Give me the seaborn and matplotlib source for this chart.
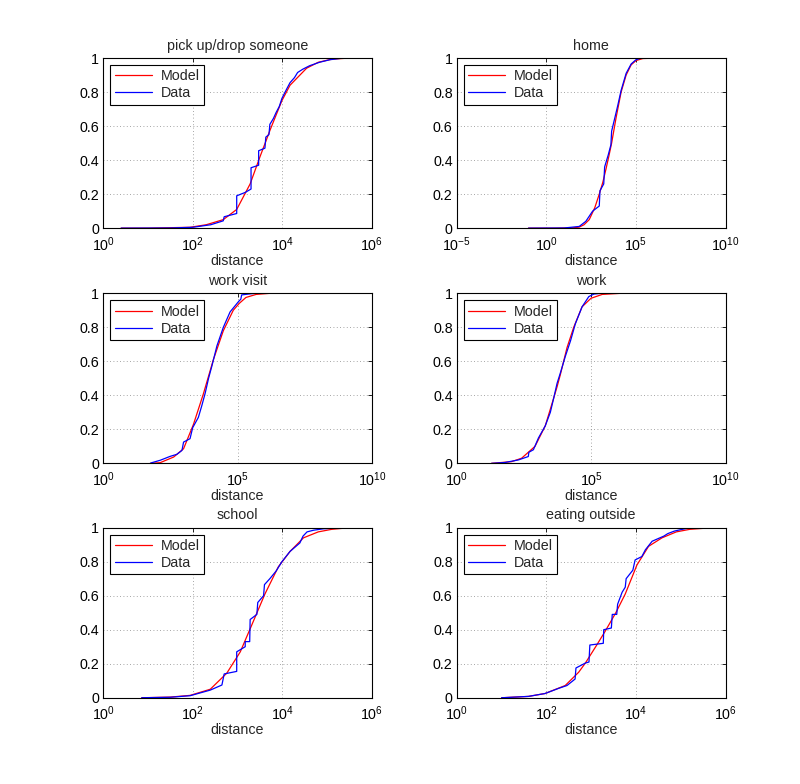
import numpy as np
import pandas as pd
import matplotlib
matplotlib.use("Agg")
import matplotlib.pyplot as plt
import matplotlib.ticker as mticker
import seaborn as sns

sns.set_theme(style="white")
plt.rcParams['font.family'] = ['Liberation Sans', 'DejaVu Sans']
plt.rcParams['mathtext.fontset'] = 'custom'
plt.rcParams['mathtext.rm'] = 'Liberation Sans'

titles = ["pick up/drop someone", "home", "work visit", "work", "school", "eating outside"]
xlims_log10 = [(0, 6), (-5, 10), (0, 10), (0, 10), (0, 6), (0, 6)]
xticks_log10 = [[0, 2, 4, 6], [-5, 0, 5, 10], [0, 5, 10], [0, 5, 10], [0, 2, 4, 6], [0, 2, 4, 6]]

# ---- pick up/drop someone ----
model1_log10 = [0.4, 1.0, 1.94, 2.3, 2.68, 2.98, 3.28, 3.5, 3.63, 3.73, 3.99, 4.17, 4.54, 4.8, 5.1, 5.5, 6.0]
model1_cdf = [0.0, 0.0, 0.005, 0.02, 0.05, 0.11, 0.26, 0.42, 0.51, 0.58, 0.75, 0.84, 0.94, 0.975, 0.993, 1.0, 1.0]
data1_log10 = [0.4, 1.5, 2.0, 2.4, 2.68, 2.70, 2.98, 2.98, 3.17, 3.30, 3.30, 3.47, 3.47, 3.61, 3.63, 3.70, 3.72,
               3.80, 3.86, 3.93, 3.99, 4.10, 4.17, 4.27, 4.34, 4.46, 4.61, 4.83, 5.06, 5.36, 5.6]
data1_cdf = [0.0, 0.001, 0.005, 0.02, 0.043, 0.067, 0.086, 0.19, 0.21, 0.23, 0.355, 0.37, 0.455, 0.47, 0.535, 0.55, 0.61,
             0.645, 0.68, 0.715, 0.763, 0.82, 0.855, 0.885, 0.915, 0.935, 0.955, 0.975, 0.99, 1.0, 1.0]

# ---- home ----
model2_log10 = [-1.0, 0.5, 1.5, 1.83, 2.1, 2.39, 2.7, 2.95, 3.15, 3.33, 3.5, 3.64, 3.89, 4.17, 4.45, 4.73, 5.0, 5.38, 6.3]
model2_cdf = [0.0, 0.0, 0.002, 0.006, 0.02, 0.05, 0.12, 0.2, 0.27, 0.35, 0.43, 0.5, 0.65, 0.8, 0.9, 0.96, 0.985, 0.997, 1.0]
data2_log10 = [-1.0, 1.0, 1.83, 2.2, 2.58, 2.95, 2.99, 3.2, 3.25, 3.45, 3.6, 3.64, 3.8, 3.98, 4.17, 4.45, 4.73, 5.0, 5.29, 5.6]
data2_cdf = [0.0, 0.001, 0.01, 0.04, 0.1, 0.13, 0.22, 0.26, 0.36, 0.43, 0.49, 0.57, 0.64, 0.72, 0.81, 0.91, 0.965, 0.99, 1.0, 1.0]

# ---- work visit ----
model3_log10 = [1.75, 2.12, 2.62, 2.99, 3.36, 3.73, 4.10, 4.47, 4.84, 5.06, 5.31, 5.69, 6.25]
model3_cdf = [0.0, 0.004, 0.037, 0.086, 0.23, 0.41, 0.61, 0.78, 0.90, 0.94, 0.975, 0.993, 1.0]
data3_log10 = [1.75, 1.81, 2.12, 2.49, 2.74, 2.93, 2.99, 3.23, 3.33, 3.54, 3.67, 3.79, 3.92, 4.04, 4.23,
               4.47, 4.72, 5.03, 5.12, 5.15, 5.4, 5.69]
data3_cdf = [0.0, 0.004, 0.018, 0.041, 0.053, 0.076, 0.125, 0.145, 0.21, 0.27, 0.34, 0.41, 0.50, 0.57, 0.69,
             0.80, 0.89, 0.95, 0.965, 0.99, 0.995, 1.0]

# ---- work ----
model4_log10 = [1.29, 2.04, 2.41, 2.91, 3.29, 3.54, 3.73, 3.85, 4.1, 4.35, 4.66, 4.99, 5.41, 6.16]
model4_cdf = [0.0, 0.01, 0.03, 0.1, 0.22, 0.35, 0.45, 0.52, 0.68, 0.8, 0.92, 0.97, 0.993, 1.0]
data4_log10 = [1.29, 1.79, 2.29, 2.66, 2.68, 2.85, 3.04, 3.29, 3.48, 3.6, 3.73, 3.85, 4.04, 4.23, 4.41, 4.66,
               4.91, 5.1, 5.41]
data4_cdf = [0.0, 0.005, 0.02, 0.04, 0.065, 0.08, 0.15, 0.22, 0.3, 0.38, 0.47, 0.53, 0.63, 0.72, 0.82, 0.92,
             0.98, 0.995, 1.0]

# ---- school ----
model5_log10 = [0.86, 1.5, 1.94, 2.39, 2.76, 3.06, 3.32, 3.61, 3.91, 4.17, 4.47, 4.8, 5.1, 5.51]
model5_cdf = [0.0, 0.004, 0.014, 0.05, 0.145, 0.27, 0.43, 0.61, 0.77, 0.86, 0.94, 0.975, 0.99, 1.0]
data5_log10 = [0.86, 1.5, 1.94, 2.39, 2.65, 2.70, 2.98, 2.98, 3.17, 3.17, 3.27, 3.28, 3.43, 3.45, 3.58, 3.60,
               3.72, 3.86, 3.99, 4.17, 4.39, 4.46, 4.55, 4.7, 4.91, 5.36]
data5_cdf = [0.0, 0.003, 0.012, 0.045, 0.075, 0.14, 0.155, 0.27, 0.30, 0.33, 0.33, 0.46, 0.49, 0.56, 0.60, 0.665,
             0.70, 0.745, 0.80, 0.86, 0.91, 0.95, 0.975, 0.985, 0.993, 1.0]

# ---- eating outside ----
model6_log10 = [1.0, 1.6, 1.97, 2.42, 2.72, 2.87, 3.1, 3.31, 3.55, 3.76, 4.02, 4.28, 4.58, 4.9, 5.2, 5.72]
model6_cdf = [0.0, 0.008, 0.025, 0.072, 0.15, 0.204, 0.30, 0.39, 0.50, 0.61, 0.78, 0.89, 0.94, 0.975, 0.99, 1.0]
data6_log10 = [1.0, 1.6, 1.97, 2.27, 2.46, 2.64, 2.66, 2.87, 2.95, 2.97, 3.27, 3.28, 3.45, 3.47, 3.57, 3.59,
               3.69, 3.76, 3.78, 3.93, 3.98, 4.13, 4.21, 4.36, 4.62, 4.71, 4.86, 5.12, 5.42]
data6_cdf = [0.0, 0.008, 0.025, 0.055, 0.072, 0.11, 0.175, 0.204, 0.21, 0.31, 0.32, 0.40, 0.41, 0.49, 0.49, 0.55,
             0.62, 0.65, 0.70, 0.75, 0.81, 0.83, 0.87, 0.92, 0.95, 0.965, 0.98, 0.995, 1.0]

models = [(model1_log10, model1_cdf), (model2_log10, model2_cdf), (model3_log10, model3_cdf),
          (model4_log10, model4_cdf), (model5_log10, model5_cdf), (model6_log10, model6_cdf)]
datas = [(data1_log10, data1_cdf), (data2_log10, data2_cdf), (data3_log10, data3_cdf),
         (data4_log10, data4_cdf), (data5_log10, data5_cdf), (data6_log10, data6_cdf)]

fig = plt.figure(figsize=(8.0, 7.84), dpi=100)
lefts = [0.129, 0.571]
bottoms = [0.709, 0.409, 0.110]
w, h = 0.336, 0.217

for i in range(6):
    r, c = divmod(i, 2)
    ax = fig.add_axes([lefts[c], bottoms[r], w, h])
    mx, my = models[i]
    dx, dy = datas[i]
    mdf = pd.DataFrame({"distance": 10.0 ** np.array(mx), "cdf": my})
    ddf = pd.DataFrame({"distance": 10.0 ** np.array(dx), "cdf": dy})
    sns.lineplot(data=mdf, x="distance", y="cdf", ax=ax, color="red", lw=0.9,
                 estimator=None, sort=False, label="Model")
    sns.lineplot(data=ddf, x="distance", y="cdf", ax=ax, color="blue", lw=0.9,
                 estimator=None, sort=False, label="Data")
    ax.set_xscale("log")
    lo, hi = xlims_log10[i]
    ax.set_xlim(10.0 ** lo, 10.0 ** hi)
    ax.set_ylim(0, 1)
    ax.set_xticks([10.0 ** t for t in xticks_log10[i]])
    ax.set_xticklabels([r"$10^{%d}$" % t for t in xticks_log10[i]])
    ax.xaxis.set_minor_locator(mticker.NullLocator())
    ax.set_yticks([0, 0.2, 0.4, 0.6, 0.8, 1.0])
    ax.set_yticklabels(["0", "0.2", "0.4", "0.6", "0.8", "1"])
    ax.tick_params(direction="in", length=3, width=0.6, labelsize=10.3, colors="black",
                   top=True, right=True, pad=3)
    ax.tick_params(axis="x", pad=5)
    ax.grid(True, linestyle=(0, (1, 3)), color="#888888", lw=0.6)
    for s in ax.spines.values():
        s.set_color("black")
        s.set_linewidth(0.8)
        s.set_visible(True)
    ax.set_xlabel("distance", fontsize=10.3, labelpad=0)
    ax.set_ylabel("")
    ax.set_title(titles[i], fontsize=10.3, pad=6)
    leg = ax.legend(loc="upper left", fontsize=10.3, frameon=True, fancybox=False,
                    borderaxespad=0.5, handlelength=2.6, handletextpad=0.6,
                    borderpad=0.3, labelspacing=0.2)
    leg.get_frame().set_edgecolor("black")
    leg.get_frame().set_linewidth(0.8)
    leg.get_frame().set_alpha(1)

fig.savefig("out.png", dpi=100, facecolor="white")
